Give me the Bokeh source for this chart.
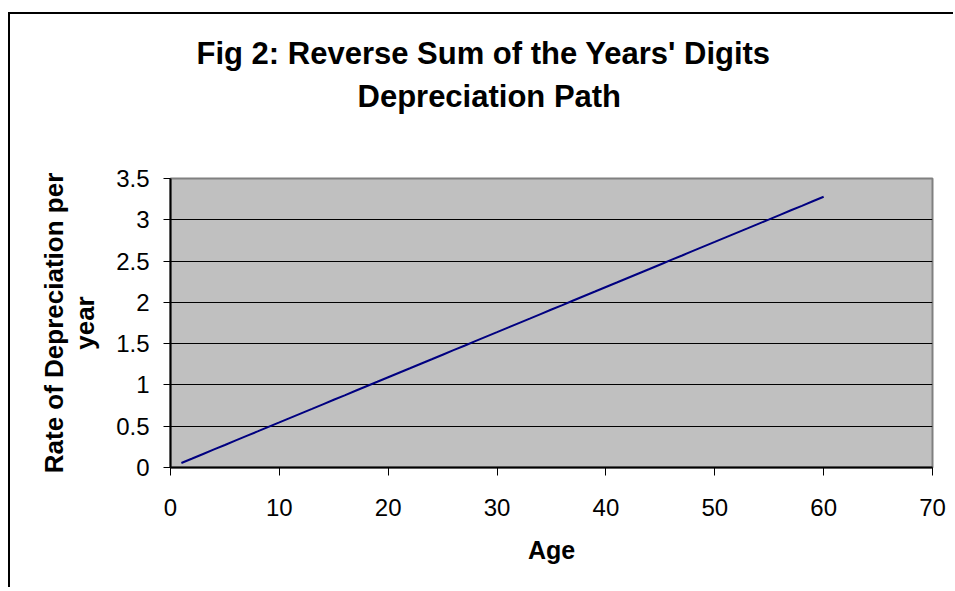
from bokeh.plotting import figure
from bokeh.models import Range1d, FixedTicker, Title
from bokeh.embed import file_html
from bokeh.resources import INLINE

# ---- data ----
age = list(range(1, 61))
rate = [0.055, 0.109, 0.164, 0.219, 0.273, 0.328, 0.383, 0.437, 0.492, 0.546,
        0.601, 0.656, 0.710, 0.765, 0.820, 0.874, 0.929, 0.984, 1.038, 1.093,
        1.148, 1.202, 1.257, 1.311, 1.366, 1.421, 1.475, 1.530, 1.585, 1.639,
        1.694, 1.749, 1.803, 1.858, 1.913, 1.967, 2.022, 2.077, 2.131, 2.186,
        2.240, 2.295, 2.350, 2.404, 2.459, 2.514, 2.568, 2.623, 2.678, 2.732,
        2.787, 2.842, 2.896, 2.951, 3.005, 3.060, 3.115, 3.169, 3.224, 3.279]
x_ticks = [0, 10, 20, 30, 40, 50, 60, 70]
y_ticks = [0, 0.5, 1, 1.5, 2, 2.5, 3, 3.5]
y_tick_labels = ["0", "0.5", "1", "1.5", "2", "2.5", "3", "3.5"]
title_lines = ["Fig 2: Reverse Sum of the Years' Digits", "Depreciation Path"]
y_label_lines = ["Rate of Depreciation per", "year"]
x_label = "Age"

FONT = "Liberation Sans"

p = figure(width=945, height=575, output_backend="svg", toolbar_location=None,
           x_range=Range1d(0, 70), y_range=Range1d(0, 3.5),
           min_border_left=160, min_border_right=23,
           min_border_top=164, min_border_bottom=122)
p.styles = {"margin-left": "8px", "margin-top": "12px",
            "border-top": "2px solid black", "border-left": "2px solid black"}

p.background_fill_color = "#C0C0C0"
p.border_fill_color = "white"
p.outline_line_color = "#808080"
p.outline_line_width = 2

p.xgrid.grid_line_color = None
p.ygrid.grid_line_color = "black"
p.ygrid.grid_line_width = 1
p.ygrid.ticker = FixedTicker(ticks=y_ticks)

for ax in (p.xaxis[0], p.yaxis[0]):
    ax.axis_line_color = "black"
    ax.axis_line_width = 2
    ax.major_tick_line_color = "black"
    ax.major_tick_line_width = 1
    ax.major_tick_in = 0
    ax.major_tick_out = 8
    ax.minor_tick_line_color = None
    ax.major_label_text_font = FONT
    ax.major_label_text_font_size = "24px"
    ax.major_label_text_color = "black"
    ax.axis_label_text_font = FONT
    ax.axis_label_text_font_style = "bold"
    ax.axis_label_text_color = "black"

p.xaxis.ticker = FixedTicker(ticks=x_ticks)
p.yaxis.ticker = FixedTicker(ticks=y_ticks)
p.yaxis.major_label_overrides = {t: s for t, s in zip(y_ticks, y_tick_labels)}
p.xaxis.major_label_standoff = 23
p.yaxis.major_label_standoff = 14
p.yaxis.major_tick_out = 7

p.xaxis.axis_label = x_label
p.xaxis.axis_label_text_font_size = "25px"
p.xaxis.axis_label_standoff = 17
p.yaxis.axis_label = "\n".join(y_label_lines)
p.yaxis.axis_label_text_font_size = "26px"
p.yaxis.axis_label_text_line_height = 1.05
p.yaxis.axis_label_standoff = 13

p.line(age, rate, line_color="#000080", line_width=2)

# spacer between the frame and the two title lines
spacer = Title(text=" ", standoff=26, text_font=FONT, text_font_size="31px")
t2 = Title(text=title_lines[1], align="left", offset=187, standoff=4,
           text_font=FONT, text_font_size="31px", text_font_style="bold",
           text_color="black")
t1 = Title(text=title_lines[0], align="left", offset=26, standoff=8,
           text_font=FONT, text_font_size="31px", text_font_style="bold",
           text_color="black")
p.add_layout(spacer, "above")
p.add_layout(t2, "above")
p.add_layout(t1, "above")

open("out.html", "w").write(file_html(p, INLINE))
